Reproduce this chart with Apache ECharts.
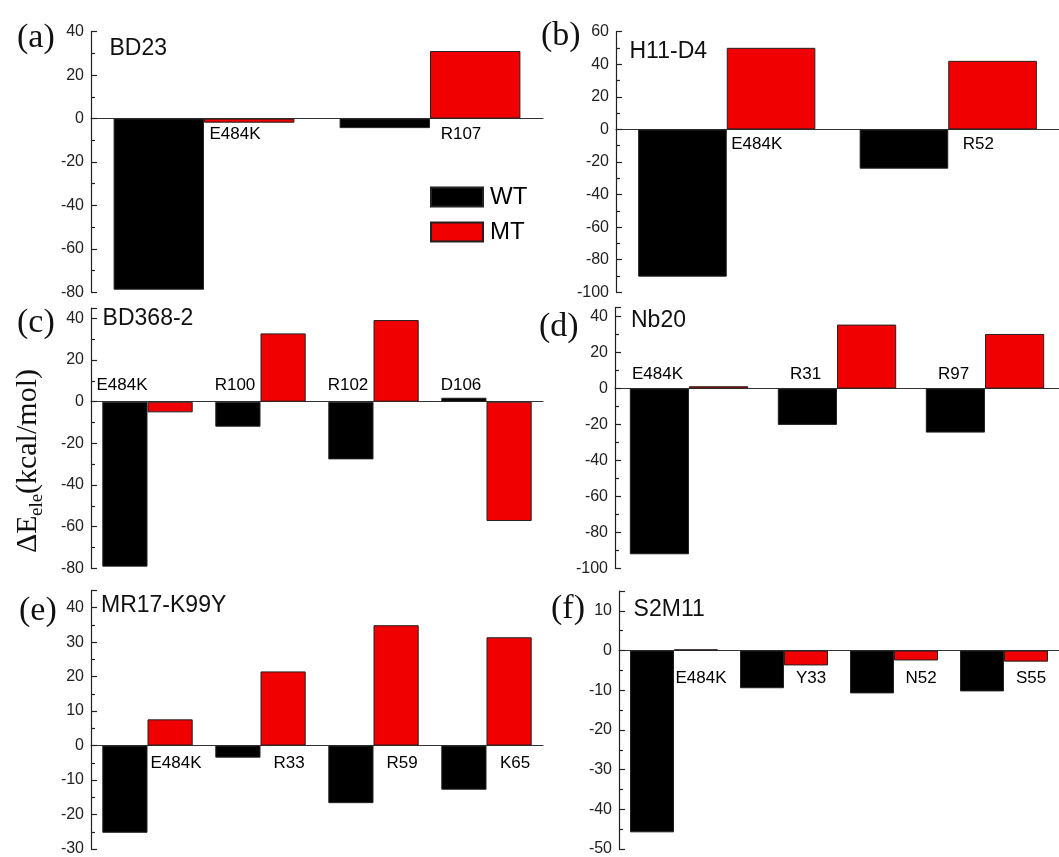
<!DOCTYPE html>
<html>
<head>
<meta charset="utf-8">
<script src="https://cdn.jsdelivr.net/npm/echarts@6/dist/echarts.min.js"></script>
<style>
html,body{margin:0;padding:0;background:#fff;}
#chart{width:1059px;height:857px;}
</style>
</head>
<body>
<div id="chart"></div>
<script>
// ---------------- data ----------------
const catsA = ['E484K', 'R107'];
const wtA = [-78.8, -4.4];
const mtA = [-1.9, 31.1];

const catsB = ['E484K', 'R52'];
const wtB = [-90.4, -24.1];
const mtB = [50.1, 42.1];

const catsC = ['E484K', 'R100', 'R102', 'D106'];
const wtC = [-79.2, -12.0, -27.7, 1.9];
const mtC = [-5.1, 32.8, 39.2, -57.3];

const catsD = ['E484K', 'R31', 'R97'];
const wtD = [-92.2, -20.2, -24.5];
const mtD = [1.3, 35.6, 30.4];

const catsE = ['E484K', 'R33', 'R59', 'K65'];
const wtE = [-25.3, -3.5, -16.7, -12.8];
const mtE = [7.6, 21.5, 34.9, 31.4];

const catsF = ['E484K', 'Y33', 'N52', 'S55'];
const wtF = [-45.8, -9.5, -10.8, -10.3];
const mtF = [0.3, -3.75, -2.5, -2.8];

const panelNames = ['BD23', 'H11-D4', 'BD368-2', 'Nb20', 'MR17-K99Y', 'S2M11'];
const panelLetters = ['(a)', '(b)', '(c)', '(d)', '(e)', '(f)'];
const yMins = [-80, -100, -80, -100, -30, -50];
const yMaxs = [40, 60, 45, 45, 45, 15];
const yIntervals = [20, 20, 20, 20, 10, 10];
const seriesNames = ['WT', 'MT'];
const yAxisTitle = ['ΔE', 'ele', '(kcal/mol)'];

// ---------------- layout / style ----------------
const panels = [
  {cats: catsA, wt: wtA, mt: mtA},
  {cats: catsB, wt: wtB, mt: mtB},
  {cats: catsC, wt: wtC, mt: mtC},
  {cats: catsD, wt: wtD, mt: mtD},
  {cats: catsE, wt: wtE, mt: mtE},
  {cats: catsF, wt: wtF, mt: mtF}
];
const grids = [
  {left: 91, top: 31.7, width: 452, height: 260.6},
  {left: 616, top: 31.7, width: 454, height: 260.6},
  {left: 91, top: 308, width: 452, height: 260.3},
  {left: 615, top: 307.7, width: 454, height: 260.6},
  {left: 91, top: 590.4, width: 452, height: 260.6},
  {left: 619, top: 591, width: 456, height: 260}
];
const labelOffsets = [[31, 15.5], [30, 14.5], [-25.5, -16.7], [-31.5, -14.2], [28.5, 17.5], [27, 27.5]];
const letterPos = [[17, 38], [541, 36], [17, 323.5], [539, 327], [19, 611.5], [551, 609]];
const namePos = [[109.5, 49], [629.5, 52], [102.6, 318.5], [631, 320.5], [101, 606], [633.6, 610]];

const SANS = '"Liberation Sans", Arial, sans-serif';
const SERIF = '"Liberation Serif", "Times New Roman", serif';
const RED = '#f00000';
const BLACK = '#000000';

const option = {
  backgroundColor: '#ffffff',
  animation: false,
  grid: grids.map(g => Object.assign({containLabel: false}, g)),
  xAxis: panels.map((p, i) => ({
    type: 'category',
    gridIndex: i,
    data: p.cats,
    axisLine: {onZero: true, lineStyle: {color: '#333', width: 1.2}},
    axisTick: {show: false},
    axisLabel: {show: false},
    splitLine: {show: false}
  })),
  yAxis: panels.map((p, i) => ({
    type: 'value',
    gridIndex: i,
    min: yMins[i],
    max: yMaxs[i],
    interval: yIntervals[i],
    axisLine: {show: true, lineStyle: {color: '#222', width: 1.2}},
    axisTick: {show: true, inside: true, length: 6, lineStyle: {color: '#222', width: 1.2}},
    minorTick: {show: true, splitNumber: 2, length: 4, lineStyle: {color: '#222', width: 1.2}},
    axisLabel: {show: true, margin: 7, fontSize: 16, color: '#222', fontFamily: SANS, showMaxLabel: yMaxs[i] % yIntervals[i] === 0},
    splitLine: {show: false}
  })),
  legend: {
    data: seriesNames,
    orient: 'vertical',
    left: 430,
    top: 185,
    padding: 0,
    itemWidth: 52,
    itemHeight: 19,
    itemGap: 11,
    icon: 'rect',
    textStyle: {fontSize: 24, fontFamily: SANS, color: '#000', padding: [0, 0, 0, 2]}
  },
  series: [],
  graphic: []
};

panels.forEach((p, i) => {
  option.series.push({
    name: seriesNames[0], type: 'bar', xAxisIndex: i, yAxisIndex: i,
    data: p.wt, barGap: '0%', barCategoryGap: '20%',
    itemStyle: {color: BLACK, borderColor: '#222', borderWidth: 1}
  });
  option.series.push({
    name: seriesNames[1], type: 'bar', xAxisIndex: i, yAxisIndex: i,
    data: p.mt, barGap: '0%', barCategoryGap: '20%',
    itemStyle: {color: RED, borderColor: '#222', borderWidth: 1}
  });
  option.series.push({
    name: 'labels' + i, type: 'scatter', xAxisIndex: i, yAxisIndex: i,
    data: p.cats.map(c => [c, 0]),
    symbolSize: 1,
    itemStyle: {color: 'rgba(0,0,0,0)'},
    z: 10,
    silent: true,
    label: {
      show: true,
      position: 'inside',
      offset: labelOffsets[i],
      formatter: params => params.value[0],
      fontSize: 17,
      color: '#000',
      textBorderWidth: 0,
      textBorderColor: 'transparent',
      opacity: 1,
      fontFamily: SANS
    }
  });
  option.graphic.push({
    type: 'text', x: letterPos[i][0], y: letterPos[i][1],
    style: {text: panelLetters[i], font: '34px ' + SERIF, fill: '#111', textAlign: 'left', textVerticalAlign: 'middle'}
  });
  option.graphic.push({
    type: 'text', x: namePos[i][0], y: namePos[i][1],
    style: {text: panelNames[i], font: '23px ' + SANS, fill: '#111', textAlign: 'left', textVerticalAlign: 'middle'}
  });
});

// rotated y-axis title, drawn as three pieces (main, subscript, unit)
option.graphic.push({
  type: 'text', x: 28, y: 553, rotation: Math.PI / 2,
  style: {text: yAxisTitle[0], font: '30px ' + SERIF, fill: '#111', textAlign: 'left', textVerticalAlign: 'middle'}
});
option.graphic.push({
  type: 'text', x: 37, y: 516, rotation: Math.PI / 2,
  style: {text: yAxisTitle[1], font: '19px ' + SERIF, fill: '#111', textAlign: 'left', textVerticalAlign: 'middle'}
});
option.graphic.push({
  type: 'text', x: 28, y: 494, rotation: Math.PI / 2,
  style: {text: yAxisTitle[2], font: '30px ' + SERIF, fill: '#111', textAlign: 'left', textVerticalAlign: 'middle'}
});

const chart = echarts.init(document.getElementById('chart'), null, {renderer: 'canvas'});
chart.setOption(option);
</script>
</body>
</html>
